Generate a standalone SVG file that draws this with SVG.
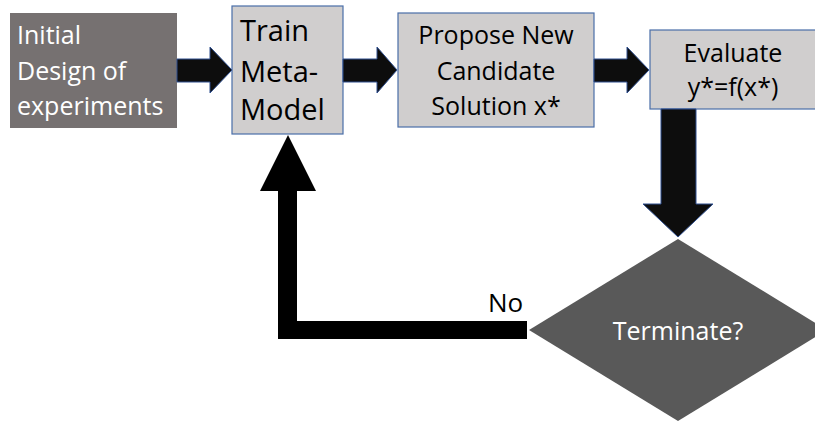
<svg xmlns="http://www.w3.org/2000/svg" width="815" height="422" viewBox="0 0 815 422">
<style>
  .lt { font-family: "Open Sans", "Liberation Sans", sans-serif; fill: #000000; }
  .wt { font-family: "Open Sans", "Liberation Sans", sans-serif; fill: #ffffff; }
  .box { fill: #d0cece; stroke: #4a6ea8; stroke-width: 1.2; }
  .arr { fill: #0d0d0d; stroke: #2f4f8f; stroke-width: 1; }
</style>
<rect width="815" height="422" fill="#ffffff"/>
<g id="initial-design">
  <rect x="10" y="13" width="167" height="115" fill="#767171"/>
  <text class="wt" font-size="25" x="17" y="44">Initial</text>
  <text class="wt" font-size="25" x="17" y="80">Design of</text>
  <text class="wt" font-size="25" x="17" y="115">experiments</text>
</g>
<g id="train-meta-model">
  <rect class="box" x="232" y="6" width="111" height="128"/>
  <text class="lt" font-size="29" x="240" y="41">Train</text>
  <text class="lt" font-size="29" x="240" y="82">Meta-</text>
  <text class="lt" font-size="29" x="240" y="120">Model</text>
</g>
<g id="propose-candidate">
  <rect class="box" x="398" y="13" width="196" height="114"/>
  <text class="lt" font-size="25" x="496" y="44" text-anchor="middle">Propose New</text>
  <text class="lt" font-size="25" x="496" y="80" text-anchor="middle">Candidate</text>
  <text class="lt" font-size="25" x="496" y="115" text-anchor="middle">Solution x*</text>
</g>
<g id="evaluate">
  <rect class="box" x="650" y="30" width="175" height="79"/>
  <text class="lt" font-size="25" x="733" y="62" text-anchor="middle">Evaluate</text>
  <text class="lt" font-size="25" x="733" y="96" text-anchor="middle">y*=f(x*)</text>
</g>
<g id="terminate">
  <path d="M678,239 L827,330 L678,421 L529,330 Z" fill="#595959"/>
  <text class="wt" font-size="25" x="678" y="340" text-anchor="middle">Terminate?</text>
</g>
<g id="connectors">
  <path class="arr" d="M177,59 H210 V47 L232,70 L210,93 V82 H177 Z"/>
  <path class="arr" d="M343,59 H377 V47 L397,70 L377,93 V82 H343 Z"/>
  <path class="arr" d="M594,59 H627 V47 L649,70 L627,93 V82 H594 Z"/>
  <path class="arr" d="M661,109 V204 H643 L678,237 L713,204 H696 V109 Z"/>
  <path d="M527,321 V339 H278 V191 H260 L288,135 L316,191 H297 V321 Z" fill="#000000"/>
  <text class="lt" font-size="26" x="488" y="312">No</text>
</g>
</svg>
